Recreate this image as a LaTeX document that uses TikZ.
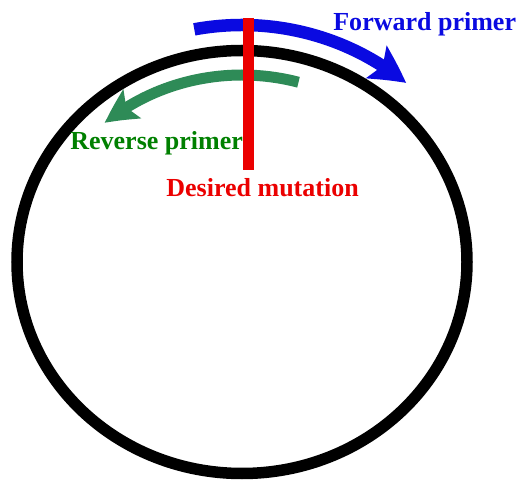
\documentclass[tikz,border=0pt]{standalone}
\usepackage{fontspec}
\setmainfont{Liberation Serif}
\usepackage{xcolor}
\usetikzlibrary{arrows.meta, bending}

\definecolor{fwdblue}{RGB}{10,10,225}
\definecolor{revgreen}{RGB}{46,139,87}
\definecolor{revtext}{RGB}{0,128,0}
\definecolor{mutred}{RGB}{235,0,0}

\begin{document}
\begin{tikzpicture}[
    % Styles
    plasmid/.style={draw=black, line width=0.23cm},
    primer/.style={line width=0.25cm},
    mutation/.style={draw=mutred, line width=0.22cm},
    lbl/.style={font=\fontsize{14.8}{17}\selectfont\bfseries, inner sep=0pt, anchor=base west}
  ]
    \useasboundingbox (0,0) rectangle (10.42,9.64);

    % === Plasmid ===
    \coordinate (ctr) at (4.84,4.40);
    \draw[plasmid] (ctr) ellipse [x radius=4.5, y radius=4.23];

    % === Forward primer (outside) ===
    \path (ctr) ++(101:5.0 and 4.74) coordinate (fwdstart);
    \draw[primer, fwdblue, -{Stealth[length=0.72cm, width=0.75cm, inset=0.14cm, bend]}]
      (fwdstart) arc [start angle=101, end angle=49, x radius=5.0, y radius=4.74];

    % === Reverse primer (inside) ===
    \path (ctr) ++(74:4.1 and 3.74) coordinate (revstart);
    \draw[primer, line width=0.22cm, revgreen, -{Stealth[length=0.66cm, width=0.66cm, inset=0.13cm, bend]}]
      (revstart) arc [start angle=74, end angle=132, x radius=4.1, y radius=3.74];

    % === Mutation site ===
    \coordinate (mtop) at (4.96,9.28);
    \coordinate (mbot) at (4.96,6.24);
    \draw[mutation] (mtop) -- (mbot);

    % === Labels ===
    \node[lbl, text=fwdblue] (fwdlbl) at (6.66,9.02) {Forward primer};
    \node[lbl, text=revtext] (revlbl) at (1.40,6.64) {Reverse primer};
    \node[lbl, text=mutred] (mutlbl) at (3.32,5.70) {Desired mutation};

  \end{tikzpicture}
\end{document}
